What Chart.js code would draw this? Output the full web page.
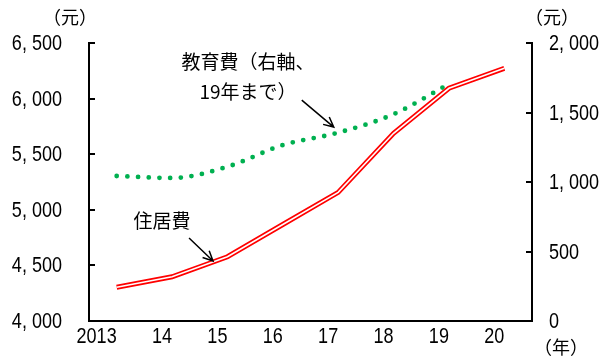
<!DOCTYPE html>
<html>
<head>
<meta charset="utf-8">
<script src="https://cdn.jsdelivr.net/npm/chart.js"></script>
<style>
  html, body { margin: 0; padding: 0; background: #fff; }
  #wrap { width: 603px; height: 362px; }
</style>
</head>
<body>
<div id="wrap"><canvas id="chart"></canvas></div>
<script>
const years = ['2013', '14', '15', '16', '17', '18', '19', '20'];
const housing = [4303, 4398, 4578, 4868, 5157, 5688, 6093, 6272];      // 元, left axis
const education = [1043, 1029, 1110, 1266, 1355, 1488, 1705, null];   // 元, right axis
const leftTickValues = [4000, 4500, 5000, 5500, 6000, 6500];
const leftTickLabels = ['4, 000', '4, 500', '5, 000', '5, 500', '6, 000', '6, 500'];
const rightTickValues = [0, 500, 1000, 1500, 2000];
const rightTickLabels = ['0', '500', '1, 000', '1, 500', '2, 000'];

const NUM_FONT = "22px 'Liberation Sans', Arial, sans-serif";
const JP_FONT = "'Noto Sans CJK JP', sans-serif";

// narrow numerals: Liberation Sans squeezed horizontally
function narrowText(ctx, text, x, y, align) {
    ctx.save();
    ctx.translate(x, y);
    ctx.scale(0.82, 1);
    ctx.font = NUM_FONT;
    ctx.textAlign = align;
    ctx.textBaseline = 'middle';
    ctx.fillText(text, 0, 0);
    ctx.restore();
}

function arrow(ctx, x0, y0, x1, y1) {
    const a = Math.atan2(y1 - y0, x1 - x0);
    const h = 11;
    ctx.beginPath();
    ctx.moveTo(x0, y0);
    ctx.lineTo(x1, y1);
    ctx.moveTo(x1 - h * Math.cos(a - 0.45), y1 - h * Math.sin(a - 0.45));
    ctx.lineTo(x1, y1);
    ctx.lineTo(x1 - h * Math.cos(a + 0.45), y1 - h * Math.sin(a + 0.45));
    ctx.stroke();
}

const decor = {
    id: 'decor',
    afterDraw(chart) {
        const {ctx, chartArea: area, scales} = chart;
        const x = scales.x, yl = scales.yLeft, yr = scales.yRight;
        ctx.save();
        // inward tick marks on both value axes
        ctx.strokeStyle = '#000';
        ctx.lineWidth = 2;
        ctx.beginPath();
        leftTickValues.forEach(v => {
            const p = Math.round(yl.getPixelForValue(v));
            ctx.moveTo(area.left, p); ctx.lineTo(area.left + 6, p);
        });
        rightTickValues.forEach(v => {
            const p = Math.round(yr.getPixelForValue(v));
            ctx.moveTo(area.right, p); ctx.lineTo(area.right - 6, p);
        });
        ctx.stroke();

        // tick labels
        ctx.fillStyle = '#000';
        leftTickValues.forEach((v, i) => {
            narrowText(ctx, leftTickLabels[i], area.left - 27, yl.getPixelForValue(v) + 1, 'right');
        });
        rightTickValues.forEach((v, i) => {
            narrowText(ctx, rightTickLabels[i], area.right + 17, yr.getPixelForValue(v) + 1, 'left');
        });
        years.forEach((lab, i) => {
            narrowText(ctx, lab, x.getPixelForValue(i), area.bottom + 16, 'right');
        });

        // units
        ctx.textAlign = 'center';
        ctx.textBaseline = 'middle';
        ctx.font = '18px ' + JP_FONT;
        ctx.fillText('（元）', 70, 17);
        ctx.fillText('（元）', 552, 17);
        ctx.fillText('（年）', 561, 347);

        // series labels
        ctx.font = '19px ' + JP_FONT;
        ctx.fillText('教育費（右軸、', 248, 62);
        ctx.fillText('19年まで）', 248, 92);
        ctx.fillText('住居費', 162, 221);

        // pointers
        ctx.lineWidth = 1.5;
        const ex = x.getPixelForValue(3.92), ey = yr.getPixelForValue(1395);
        arrow(ctx, ex - 32, ey - 27, ex, ey);
        const hx = x.getPixelForValue(1.74), hy = yl.getPixelForValue(4540);
        arrow(ctx, hx - 24, hy - 23, hx, hy);
        ctx.restore();
    }
};

new Chart(document.getElementById('chart'), {
    type: 'line',
    data: {
        labels: years,
        datasets: [
            {
                label: '住居費',
                data: housing,
                yAxisID: 'yLeft',
                borderColor: '#fff',
                borderWidth: 1.6,
                pointRadius: 0,
                tension: 0,
                order: 0
            },
            {
                label: '住居費',
                data: housing,
                yAxisID: 'yLeft',
                borderColor: '#ff0000',
                borderWidth: 5,
                pointRadius: 0,
                tension: 0,
                order: 1
            },
            {
                label: '教育費',
                data: education,
                yAxisID: 'yRight',
                borderColor: '#00b050',
                borderWidth: 4.8,
                borderDash: [0, 10.7],
                borderCapStyle: 'round',
                pointRadius: 0,
                cubicInterpolationMode: 'monotone',
                spanGaps: false,
                order: 2
            }
        ]
    },
    options: {
        responsive: true,
        maintainAspectRatio: false,
        animation: false,
        layout: {padding: {top: 43, left: 0, right: 0, bottom: 0}},
        plugins: {
            legend: {display: false},
            tooltip: {enabled: false},
            title: {display: false}
        },
        scales: {
            x: {
                offset: true,
                grid: {display: true, drawOnChartArea: false, drawTicks: false},
                border: {display: true, color: '#000', width: 2},
                ticks: {display: false},
                afterFit: s => { s.height = 41; }
            },
            yLeft: {
                position: 'left',
                min: 4000,
                max: 6500,
                grid: {display: true, drawOnChartArea: false, drawTicks: false},
                border: {display: true, color: '#000', width: 2},
                ticks: {display: false, stepSize: 500},
                afterFit: s => { s.width = 89; }
            },
            yRight: {
                position: 'right',
                min: 0,
                max: 2000,
                grid: {display: true, drawOnChartArea: false, drawTicks: false},
                border: {display: true, color: '#000', width: 2},
                ticks: {display: false, stepSize: 500},
                afterFit: s => { s.width = 71; }
            }
        }
    },
    plugins: [decor]
});
</script>
</body>
</html>
